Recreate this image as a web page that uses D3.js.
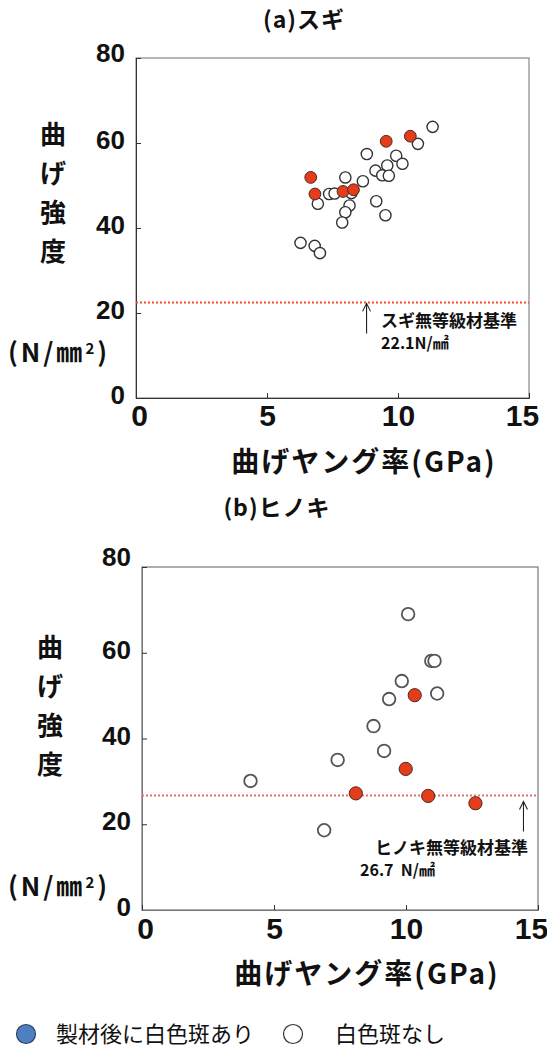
<!DOCTYPE html>
<html>
<head>
<meta charset="utf-8">
<script src="https://cdn.jsdelivr.net/npm/d3@7"></script>
<style>
  body { margin: 0; background: #fff; }
  svg { display: block; }
  .num { font-family: "Liberation Sans", Arial, sans-serif; font-weight: bold; fill: #111; }
  .jp { font-family: "Noto Sans CJK JP", "Noto Sans", sans-serif; fill: #111; }
</style>
</head>
<body>
<svg id="chart" width="547" height="1048"></svg>
<script>
// (a) スギ  [ヤング率 GPa, 曲げ強度 N/mm2]
var sugiStained = [[9.55, 60.4], [10.47, 61.6], [6.67, 51.9], [6.83, 48.0], [7.9, 48.6], [8.3, 49.0]];
var sugiClear = [[11.32, 63.8], [10.76, 59.8], [8.81, 57.4], [9.93, 57.0], [10.17, 55.1], [9.59, 54.7],
                 [9.14, 53.5], [9.40, 52.4], [9.65, 52.3], [7.99, 51.9], [8.66, 51.0], [6.94, 45.7],
                 [7.37, 48.0], [7.58, 48.1], [8.22, 48.2], [8.15, 45.3], [7.99, 43.7], [7.87, 41.3],
                 [9.17, 46.3], [9.52, 43.0], [6.28, 36.5], [6.82, 35.8], [7.02, 34.1]];
// (b) ヒノキ
var hinokiStained = [[10.33, 50.1], [9.99, 32.9], [8.10, 27.2], [10.84, 26.6], [12.63, 24.9]];
var hinokiClear = [[10.08, 69.0], [10.96, 58.1], [11.08, 58.1], [9.84, 53.4], [9.36, 49.2], [11.18, 50.5],
                   [8.77, 42.9], [9.17, 37.1], [7.41, 35.0], [4.11, 30.1], [6.90, 18.6]];

var xTicks = [0, 5, 10, 15];
var yTicks = [0, 20, 40, 60, 80];
var sugiRef = 22.5, hinokiRef = 26.7;

var svg = d3.select("#chart");

function drawPanel(p) {
  var x = d3.scaleLinear().domain([0, 15]).range([p.left, p.right]);
  var y = d3.scaleLinear().domain([0, 80]).range([p.bottom, p.top]);
  var g = svg.append("g");

  // frame
  g.append("rect").attr("x", p.left).attr("y", p.top)
    .attr("width", p.right - p.left).attr("height", p.bottom - p.top)
    .attr("fill", "none").attr("stroke", p.frame).attr("stroke-width", 1.2);

  var ya = g.append("g").attr("transform", "translate(" + p.left + ",0)")
    .call(d3.axisLeft(y).tickValues(yTicks).tickSize(-5).tickPadding(11));
  ya.select(".domain").attr("stroke", p.axisCol);
  ya.selectAll(".tick line").attr("stroke", "#333");
  ya.selectAll(".tick text").attr("class", "num").style("font-size", "26px")
    .attr("dy", function(d) { return d == 80 ? p.topDy : "0.22em"; });

  var xa = g.append("g").attr("transform", "translate(0," + p.bottom + ")")
    .call(d3.axisBottom(x).tickValues(xTicks).tickSize(-5).tickPadding(p.xPad));
  xa.select(".domain").attr("stroke", p.axisCol);
  xa.selectAll(".tick line").attr("stroke", "#333");
  xa.selectAll(".tick text").attr("class", "num").style("font-size", "30px")
    .attr("dx", function(d) { return d == 15 ? -7 : (d == 0 ? 3 : 0); });

  // reference line
  g.append("line").attr("x1", x(0)).attr("x2", x(15))
    .attr("y1", y(p.ref)).attr("y2", y(p.ref))
    .attr("stroke", p.refCol).attr("stroke-width", 2).attr("stroke-dasharray", "2,2");

  // arrow + note
  var ax = x(p.arrowX), at = y(p.ref) + p.gap, ab = at + 30;
  g.append("line").attr("x1", ax).attr("x2", ax).attr("y1", at).attr("y2", ab)
    .attr("stroke", "#222").attr("stroke-width", 1.1);
  g.append("path").attr("d", "M" + (ax - 4) + "," + (at + 8) + "L" + ax + "," + at + "L" + (ax + 4) + "," + (at + 8))
    .attr("fill", "none").attr("stroke", "#222").attr("stroke-width", 1.1);
  g.append("text").attr("class", "jp").attr("x", p.noteX).attr("y", ab + p.noteDy)
    .style("font-size", "17px").style("font-weight", "bold").text(p.note);
  g.append("text").attr("class", "jp").attr("x", p.valX).attr("y", ab + p.noteDy + 22)
    .attr("xml:space", "preserve").style("white-space", "pre")
    .style("font-size", "16px").style("font-weight", "bold").text(p.val);

  // points
  g.selectAll(".open").data(p.clear).enter().append("circle").attr("class", "open")
    .attr("cx", function(d) { return x(d[0]); }).attr("cy", function(d) { return y(d[1]); })
    .attr("r", p.r).attr("fill", "#fff").attr("stroke", p.openCol).attr("stroke-width", p.sw);
  g.selectAll(".fill").data(p.stained).enter().append("circle").attr("class", "fill")
    .attr("cx", function(d) { return x(d[0]); }).attr("cy", function(d) { return y(d[1]); })
    .attr("r", p.r + 0.3).attr("fill", "#e53d1c").attr("stroke", "#4a2a20").attr("stroke-width", 1);

  // titles
  g.append("text").attr("class", "jp").attr("x", p.titleX).attr("y", p.titleY)
    .attr("text-anchor", "middle").style("font-size", "23px").style("font-weight", "bold")
    .style("letter-spacing", "1px").text(p.title);
  g.append("text").attr("class", "jp").attr("x", p.xtX).attr("y", p.bottom + 74)
    .attr("text-anchor", "middle").style("font-size", "28px").style("font-weight", "bold")
    .style("letter-spacing", "2px").text("曲げヤング率(GPa)");
  g.selectAll(".ych").data(["曲", "げ", "強", "度"]).enter().append("text").attr("class", "jp")
    .attr("x", p.ytX).attr("y", function(d, i) { return p.ytY + i * 39; })
    .attr("text-anchor", "middle").style("font-size", "26px").style("font-weight", "bold").text(function(d) { return d; });
  var u = g.append("text").attr("class", "jp").attr("x", 8).attr("y", p.unitY)
    .style("font-size", "26px").style("font-weight", "bold").style("letter-spacing", "3px");
  u.append("tspan").text("(N/㎜");
  u.append("tspan").attr("dy", -8).style("font-size", "15px").text("2");
  u.append("tspan").attr("dy", 8).text(")");
}

drawPanel({
  left: 136, right: 529, top: 58, bottom: 398, frame: "#888", axisCol: "#333", xPad: 7, topDy: "0.12em",
  ref: sugiRef, refCol: "#f2502e", arrowX: 8.8, gap: 1, noteX: 381, valX: 381, noteDy: -6,
  note: "スギ無等級材基準", val: "22.1N/㎟",
  clear: sugiClear, stained: sugiStained, r: 5.6, sw: 1.4, openCol: "#333",
  title: "(a)スギ", titleX: 304, titleY: 28, xtX: 364, ytX: 53, ytY: 144, unitY: 362
});

drawPanel({
  left: 142, right: 538, top: 567, bottom: 910, frame: "#777", axisCol: "#777", xPad: 8, topDy: "-0.05em",
  ref: hinokiRef, refCol: "#e6706a", arrowX: 14.45, gap: 6, noteX: 375, valX: 360, noteDy: 22,
  note: "ヒノキ無等級材基準", val: "26.7  N/㎟",
  clear: hinokiClear, stained: hinokiStained, r: 6.3, sw: 1.8, openCol: "#555",
  title: "(b)ヒノキ", titleX: 277, titleY: 516, xtX: 367, ytX: 50, ytY: 657, unitY: 896
});

// legend
var legendItems = ["製材後に白色斑あり", "白色斑なし"];
var legendX = [26, 293];
var lg = svg.selectAll(".leg").data(legendItems).enter().append("g").attr("class", "leg");
lg.append("circle").attr("cx", function(d, i) { return legendX[i]; }).attr("cy", 1034).attr("r", 9.5)
  .attr("fill", function(d, i) { return i == 0 ? "#4f7fc0" : "#fff"; })
  .attr("stroke", function(d, i) { return i == 0 ? "#2c4466" : "#333"; }).attr("stroke-width", 1.2);
lg.append("text").attr("class", "jp").attr("x", function(d, i) { return legendX[i] + (i == 0 ? 30 : 42); })
  .attr("y", 1042).style("font-size", "22px").text(function(d) { return d; });
</script>
</body>
</html>
